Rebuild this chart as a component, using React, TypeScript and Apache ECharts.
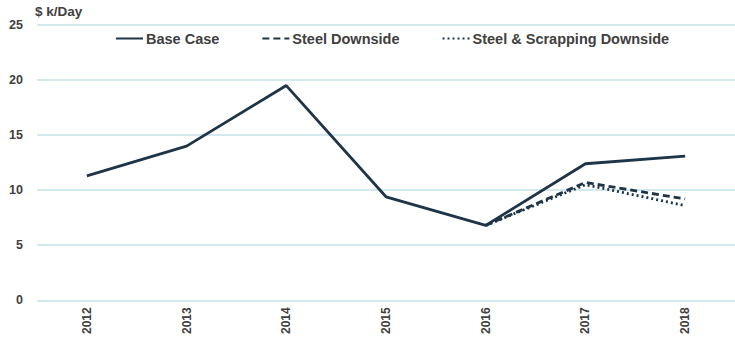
import React, { useEffect, useRef } from "react";
import * as echarts from "echarts";

const years = ["2012", "2013", "2014", "2015", "2016", "2017", "2018"];
const baseCase = [11.3, 14.0, 19.5, 9.4, 6.8, 12.4, 13.1];
const steelDownside = [null, null, null, null, 6.8, 10.7, 9.2];
const scrappingDownside = [null, null, null, null, 6.8, 10.5, 8.6];

const LINE = "#1e3547";
const FONT = "'Liberation Sans', Arial, sans-serif";

export default function App() {
  const ref = useRef<HTMLDivElement>(null);
  useEffect(() => {
    const chart = echarts.init(ref.current!, null, { renderer: "svg" });
    chart.setOption({
      animation: false,
      backgroundColor: "#ffffff",
      textStyle: { fontFamily: FONT },
      grid: { left: 37, top: 25, width: 704, height: 277 },
      legend: {
        top: 26,
        left: 110,
        itemWidth: 27,
        itemHeight: 10,
        itemGap: 42,
        itemStyle: { opacity: 0, borderWidth: 0 },
        textStyle: { fontFamily: FONT, fontSize: 14.5, fontWeight: "bold", color: "#404040", padding: [0, 0, 0, -2] },
        data: ["Base Case", "Steel Downside", "Steel & Scrapping Downside"],
      },
      xAxis: {
        type: "category",
        data: years,
        boundaryGap: true,
        axisLine: { show: false },
        axisTick: { show: false },
        axisLabel: {
          rotate: 90,
          margin: 7,
          color: "#404040",
          fontSize: 12,
          fontWeight: "bold",
          fontFamily: FONT,
        },
      },
      yAxis: {
        type: "value",
        min: 0,
        max: 25,
        interval: 5,
        name: "$ k/Day",
        nameLocation: "end",
        nameGap: 7,
        nameTextStyle: { color: "#404040", fontSize: 13.5, fontWeight: "bold", fontFamily: FONT, align: "left", padding: [0, 0, 0, -2] },
        axisLine: { show: false },
        axisTick: { show: false },
        axisLabel: { color: "#404040", fontSize: 12.5, fontWeight: "bold", fontFamily: FONT, margin: 14 },
        splitLine: { lineStyle: { color: "#c6e2ea", width: 1.5 } },
      },
      series: [
        {
          name: "Base Case",
          type: "line",
          data: baseCase,
          symbol: "none",
          lineStyle: { color: LINE, width: 2.8, type: "solid" },
          itemStyle: { color: LINE },
        },
        {
          name: "Steel Downside",
          type: "line",
          data: steelDownside,
          symbol: "none",
          lineStyle: { color: LINE, width: 2.8, type: [7, 4] },
          itemStyle: { color: LINE },
        },
        {
          name: "Steel & Scrapping Downside",
          type: "line",
          data: scrappingDownside,
          symbol: "none",
          lineStyle: { color: LINE, width: 2.8, type: [2, 3] },
          itemStyle: { color: LINE },
        },
      ],
    });
    return () => chart.dispose();
  }, []);
  return <div ref={ref} style={{ width: 735, height: 337, position: "absolute", left: 0, top: 0 }} />;
}
